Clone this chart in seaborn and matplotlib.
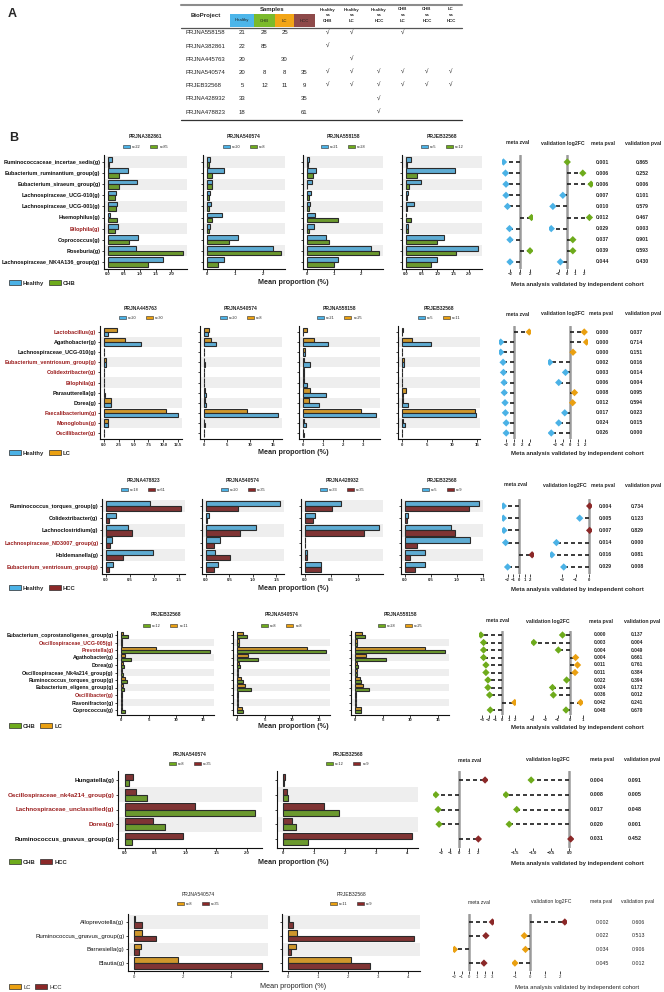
import numpy as np
import pandas as pd
import seaborn as sns
import matplotlib.pyplot as plt
from matplotlib.patches import Rectangle, Patch
from matplotlib.lines import Line2D

W, H = 664, 992

# ---------------- panel A table
tbl_projects = ["PRJNA558158", "PRJNA382861", "PRJNA445763", "PRJNA540574",
                "PRJEB32568", "PRJNA428932", "PRJNA478823"]
tbl_groups = ["Healthy", "CHB", "LC", "HCC"]
tbl_healthy = [21, 22, 20, 20, 5, 33, 18]
tbl_chb = [28, 85, None, 8, 12, None, None]
tbl_lc = [25, None, 30, 8, 11, None, None]
tbl_hcc = [None, None, None, 35, 9, 35, 61]
tbl_compare = ["Healthy\nvs\nCHB", "Healthy\nvs\nLC", "Healthy\nvs\nHCC",
               "CHB\nvs\nLC", "CHB\nvs\nHCC", "LC\nvs\nHCC"]
tbl_checks = [[1, 1, 0, 1, 0, 0], [1, 0, 0, 0, 0, 0], [0, 1, 0, 0, 0, 0],
              [1, 1, 1, 1, 1, 1], [1, 1, 1, 1, 1, 1], [0, 0, 1, 0, 0, 0],
              [0, 0, 1, 0, 0, 0]]

# ---------------- Healthy vs CHB
hc_taxa = ["Ruminococcaceae_incertae_sedis(g)", "Eubacterium_ruminantium_group(g)",
           "Eubacterium_siraeum_group(g)", "Lachnospiraceae_UCG-010(g)",
           "Lachnospiraceae_UCG-001(g)", "Haemophilus(g)", "Bilophila(g)",
           "Coprococcus(g)", "Roseburia(g)", "Lachnospiraceae_NK4A136_group(g)"]
hc_red = ["Bilophila(g)"]
hc_projects = ["PRJNA382861", "PRJNA540574", "PRJNA558158", "PRJEB32568"]
hc_n = [(22, 85), (20, 8), (21, 28), (5, 12)]
hc_healthy = [[0.13, 0.65, 0.93, 0.26, 0.28, 0.08, 0.33, 0.96, 0.89, 1.72],
              [0.11, 0.61, 0.17, 0.13, 0.15, 0.54, 0.11, 1.09, 2.34, 0.61],
              [0.07, 0.33, 0.19, 0.15, 0.12, 0.29, 0.26, 0.72, 2.39, 1.17],
              [0.17, 1.54, 0.47, 0.09, 0.27, 0.02, 0.09, 1.20, 2.29, 1.00]]
hc_chb = [[0.05, 0.36, 0.34, 0.23, 0.25, 0.29, 0.23, 0.68, 2.37, 1.27],
          [0.08, 0.17, 0.17, 0.08, 0.08, 0.19, 0.08, 0.77, 2.63, 0.40],
          [0.04, 0.25, 0.02, 0.10, 0.10, 1.17, 0.10, 0.81, 2.68, 0.99],
          [0.04, 0.35, 0.10, 0.04, 0.04, 0.17, 0.09, 1.00, 1.59, 0.80]]
hc_zval = [-3.3, -2.9, -2.8, -2.8, -2.5, 2.3, -2.1, -2.0, 2.0, -2.0]
hc_log2fc = [0.03, 1.9, 2.9, -0.5, -1.7, 2.7, -1.9, 0.7, 0.7, -0.8]
hc_meta_p = ["0.001", "0.006", "0.006", "0.007", "0.010", "0.012", "0.029", "0.037", "0.039", "0.044"]
hc_valid_p = ["0.865", "0.252", "0.006", "0.101", "0.579", "0.467", "0.003", "0.901", "0.593", "0.430"]
hc_steps = [0.5, 1, 1, 0.5]
hc_zticks = [-2, 0, 2]
hc_fcticks = [-1, 0, 1, 2]

# ---------------- Healthy vs LC
hl_taxa = ["Lactobacillus(g)", "Agathobacter(g)", "Lachnospiraceae_UCG-010(g)",
           "Eubacterium_ventriosum_group(g)", "Colidextribacter(g)", "Bilophila(g)",
           "Parasutterella(g)", "Dorea(g)", "Faecalibacterium(g)", "Monoglobus(g)",
           "Oscillibacter(g)"]
hl_red = ["Lactobacillus(g)", "Eubacterium_ventriosum_group(g)", "Colidextribacter(g)",
          "Bilophila(g)", "Faecalibacterium(g)", "Monoglobus(g)", "Oscillibacter(g)"]
hl_projects = ["PRJNA445763", "PRJNA540574", "PRJNA558158", "PRJEB32568"]
hl_n = [(20, 30), (20, 8), (21, 25), (5, 11)]
hl_healthy = [[0.65, 6.3, 0.10, 0.38, 0.05, 0.08, 0.27, 1.25, 12.5, 0.65, 0.10],
              [0.90, 2.7, 0.07, 0.30, 0.05, 0.05, 0.55, 0.55, 16.1, 0.30, 0.03],
              [0.03, 1.26, 0.13, 0.37, 0.06, 0.24, 1.17, 0.80, 3.67, 0.15, 0.07],
              [0.06, 5.8, 0.06, 0.38, 0.05, 0.06, 0.32, 1.15, 14.8, 0.58, 0.06]]
hl_lc = [[2.16, 3.6, 0.10, 0.38, 0.05, 0.08, 0.10, 1.25, 10.4, 0.65, 0.05],
         [1.05, 1.6, 0.07, 0.15, 0.05, 0.05, 0.20, 0.35, 9.4, 0.05, 0.03],
         [0.21, 0.56, 0.13, 0.05, 0.06, 0.08, 0.37, 0.32, 2.9, 0.06, 0.02],
         [0.32, 2.1, 0.06, 0.38, 0.05, 0.06, 0.83, 0.32, 14.6, 0.20, 0.06]]
hl_zval = [3.9, -3.4, -3.4, -2.8, -2.7, -2.55, -2.5, -2.3, -2.2, -2.0, -2.0]
hl_log2fc = [1.9, 2.2, 0.4, -2.7, -0.6, -1.5, 0.6, 0.35, -0.7, -1.5, -2.5]
hl_meta_p = ["0.000", "0.000", "0.000", "0.002", "0.003", "0.006", "0.008", "0.012", "0.017", "0.024", "0.026"]
hl_valid_p = ["0.037", "0.714", "0.151", "0.016", "0.014", "0.004", "0.095", "0.594", "0.023", "0.015", "0.000"]
hl_steps = [2.5, 5, 1, 5]
hl_zticks = [-2, 0, 2, 4]
hl_fcticks = [-2, -1, 0, 1, 2]

# ---------------- Healthy vs HCC
hh_taxa = ["Ruminococcus_torques_group(g)", "Colidextribacter(g)", "Lachnoclostridium(g)",
           "Lachnospiraceae_ND3007_group(g)", "Holdemanella(g)", "Eubacterium_ventriosum_group(g)"]
hh_red = ["Lachnospiraceae_ND3007_group(g)", "Eubacterium_ventriosum_group(g)"]
hh_projects = ["PRJNA478823", "PRJNA540574", "PRJNA428932", "PRJEB32568"]
hh_n = [(18, 61), (20, 35), (33, 35), (5, 9)]
hh_healthy = [[0.90, 0.21, 0.45, 0.13, 0.97, 0.15],
              [1.58, 0.06, 1.07, 0.30, 0.19, 0.26],
              [0.69, 0.19, 1.41, 0.01, 0.04, 0.30],
              [1.43, 0.06, 0.89, 1.26, 0.39, 0.39]]
hh_hcc = [[1.55, 0.07, 0.54, 0.09, 0.35, 0.07],
          [0.68, 0.03, 0.72, 0.18, 0.51, 0.18],
          [0.51, 0.16, 1.12, 0.01, 0.05, 0.30],
          [1.23, 0.05, 0.97, 0.23, 0.11, 0.20]]
hh_zval = [-2.75, -2.75, -2.65, -2.35, 2.3, -2.0]
hh_log2fc = [0.05, -0.7, 0.05, -2.45, -2.8, -1.9]
hh_meta_p = ["0.004", "0.005", "0.007", "0.014", "0.016", "0.029"]
hh_valid_p = ["0.734", "0.123", "0.829", "0.000", "0.081", "0.008"]
hh_steps = [0.5, 0.5, 0.5, 0.5]
hh_zticks = [-2, -1, 0, 1, 2]
hh_fcticks = [-2, -1, 0]

# ---------------- CHB vs LC
cl_taxa = ["Eubacterium_coprostanoligenes_group(g)", "Oscillospiraceae_UCG-005(g)",
           "Prevotella(g)", "Agathobacter(g)", "Dorea(g)", "Oscillospiraceae_Nk4a214_group(g)",
           "Ruminococcus_torques_group(g)", "Eubacterium_eligens_group(g)", "Oscillibacter(g)",
           "Flavonifractor(g)", "Coprococcus(g)"]
cl_red = ["Oscillospiraceae_UCG-005(g)", "Prevotella(g)", "Oscillibacter(g)"]
cl_projects = ["PRJEB32568", "PRJNA540574", "PRJNA558158"]
cl_n = [(12, 11), (8, 8), (28, 25)]
cl_chb = [[1.16, 0.12, 16.2, 1.74, 0.46, 0.23, 1.10, 0.46, 0.05, 0.17, 0.75],
          [1.70, 0.23, 16.2, 3.80, 0.40, 0.18, 0.94, 2.46, 0.05, 0.05, 1.00],
          [1.70, 0.23, 16.2, 5.50, 0.40, 0.23, 1.05, 2.50, 0.05, 0.05, 1.05]]
cl_lc = [[0.23, 0.12, 6.28, 0.58, 0.35, 0.12, 0.70, 0.23, 0.05, 0.12, 0.12],
         [1.00, 0.23, 12.7, 2.00, 0.30, 0.18, 0.64, 1.46, 0.05, 0.05, 0.88],
         [1.10, 0.23, 12.7, 2.00, 0.30, 0.23, 0.75, 1.45, 0.05, 0.05, 1.00]]
cl_zval = [-3.15, -2.75, -2.75, -2.75, -2.4, -2.4, -2.1, -2.1, -1.85, 1.9, -1.75]
cl_log2fc = [-0.6, -2.9, -0.93, 0.45, 0.6, 0.4, -0.27, -1.4, -1.33, 0.85, -0.32]
cl_meta_p = ["0.000", "0.003", "0.004", "0.004", "0.011", "0.011", "0.022", "0.024", "0.036", "0.042", "0.048"]
cl_valid_p = ["0.137", "0.004", "0.049", "0.661", "0.761", "0.384", "0.394", "0.172", "0.012", "0.241", "0.670"]
cl_steps = [5, 5, 5]
cl_zticks = [-3, -2, -1, 0, 1, 2]
cl_fcticks = [-3, -2, -1, 0, 1]

# ---------------- CHB vs HCC
ch_taxa = ["Hungatella(g)", "Oscillospiraceae_nk4a214_group(g)", "Lachnospiraceae_unclassified(g)",
           "Dorea(g)", "Ruminococcus_gnavus_group(g)"]
ch_red = ["Oscillospiraceae_nk4a214_group(g)", "Lachnospiraceae_unclassified(g)", "Dorea(g)"]
ch_projects = ["PRJNA540574", "PRJEB32568"]
ch_n = [(8, 35), (12, 9)]
ch_chb = [[0.08, 0.36, 2.14, 0.66, 0.13],
          [0.01, 0.16, 1.79, 0.42, 0.78]]
ch_hcc = [[0.14, 0.18, 1.15, 0.46, 0.95],
          [0.06, 0.11, 1.31, 0.28, 4.15]]
ch_zval = [2.8, -2.55, -2.3, -2.2, 2.07]
ch_log2fc = [-1.06, -1.76, -1.46, -1.67, 0.04]
ch_meta_p = ["0.004", "0.008", "0.017", "0.020", "0.031"]
ch_valid_p = ["0.091", "0.005", "0.048", "0.001", "0.452"]
ch_steps = [0.5, 1]
ch_zticks = [-2, -1, 0, 1, 2]
ch_fcticks = [-1.5, -1.0, -0.5, 0.0]

# ---------------- LC vs HCC
lh_taxa = ["Alloprevotella(g)", "Ruminococcus_gnavus_group(g)", "Barnesiella(g)", "Blautia(g)"]
lh_red = []
lh_projects = ["PRJNA540574", "PRJEB32568"]
lh_n = [(8, 35), (11, 9)]
lh_lc = [[0.04, 0.30, 0.27, 1.79],
         [0.04, 0.30, 0.27, 2.09]]
lh_hcc = [[0.30, 0.89, 0.18, 5.27],
          [0.16, 4.19, 0.10, 2.73]]
lh_zval = [3.0, 2.15, -1.95, 1.9]
lh_log2fc = [2.35, -0.37, -0.29, -1.0]
lh_meta_p = ["0.002", "0.022", "0.034", "0.045"]
lh_valid_p = ["0.606", "0.513", "0.906", "0.012"]
lh_steps = [2, 1]
lh_zticks = [-2, -1, 0, 1, 2, 3]
lh_fcticks = [-1, 0, 1, 2]

COL = {"Healthy": "#4BB2E6", "CHB": "#6EAB1C", "LC": "#EAA011", "HCC": "#8B2828"}
TCOL = {"Healthy": "#4DB6EA", "CHB": "#7BBA2B", "LC": "#F2A516", "HCC": "#8E4A4A"}
RED = "#9B1E1E"
EDGE = "#2b2b2b"

rows = [
    dict(groups=("Healthy", "CHB"), top="Healthy", taxa=hc_taxa, red=hc_red, projects=hc_projects,
         n=hc_n, vals=(hc_healthy, hc_chb), zval=hc_zval, fc=hc_log2fc, mp=hc_meta_p, vp=hc_valid_p,
         steps=hc_steps, zticks=hc_zticks, fcticks=hc_fcticks, bold=True,
         yc0=162, sp=11.1, px=[(104, 187), (203, 285), (303, 383), (402, 482)],
         title_y=137, leg_y=147, head_y=143, foot_y=283, lab_fs=4.0, num_fs=3.7,
         z0=520, zu=5.0, f0=567, fu=8.3, hx=(518, 563, 603, 643), pvx=(602, 642)),
    dict(groups=("Healthy", "LC"), top="LC", taxa=hl_taxa, red=hl_red, projects=hl_projects,
         n=hl_n, vals=(hl_healthy, hl_lc), zval=hl_zval, fc=hl_log2fc, mp=hl_meta_p, vp=hl_valid_p,
         steps=hl_steps, zticks=hl_zticks, fcticks=hl_fcticks, bold=True,
         yc0=332, sp=10.1, px=[(100, 182), (200, 282), (299, 380), (398, 480)],
         title_y=308, leg_y=318, head_y=314, foot_y=453, lab_fs=4.0, num_fs=3.7,
         z0=514, zu=3.9, f0=570, fu=7.5, hx=(518, 563, 601, 643), pvx=(602, 636)),
    dict(groups=("Healthy", "HCC"), top="Healthy", taxa=hh_taxa, red=hh_red, projects=hh_projects,
         n=hh_n, vals=(hh_healthy, hh_hcc), zval=hh_zval, fc=hh_log2fc, mp=hh_meta_p, vp=hh_valid_p,
         steps=hh_steps, zticks=hh_zticks, fcticks=hh_fcticks, bold=True,
         yc0=506, sp=12.2, px=[(102, 185), (202, 284), (301, 383), (401, 483)],
         title_y=480, leg_y=490, head_y=485, foot_y=588, lab_fs=4.0, num_fs=3.7,
         z0=519, zu=5.7, f0=589, fu=13.3, hx=(516, 565, 603, 643), pvx=(605, 637)),
    dict(groups=("CHB", "LC"), top="LC", taxa=cl_taxa, red=cl_red, projects=cl_projects,
         n=cl_n, vals=(cl_chb, cl_lc), zval=cl_zval, fc=cl_log2fc, mp=cl_meta_p, vp=cl_valid_p,
         steps=cl_steps, zticks=cl_zticks, fcticks=cl_fcticks, bold=True,
         yc0=635, sp=7.5, px=[(117, 214), (233, 330), (351, 449)],
         title_y=615, leg_y=626, head_y=621, foot_y=726, lab_fs=3.8, num_fs=3.5,
         z0=502, zu=6.7, f0=570, fu=12.5, hx=(498, 548, 601, 642), pvx=(600, 637)),
    dict(groups=("CHB", "HCC"), top="HCC", taxa=ch_taxa, red=ch_red, projects=ch_projects,
         n=ch_n, vals=(ch_chb, ch_hcc), zval=ch_zval, fc=ch_log2fc, mp=ch_meta_p, vp=ch_valid_p,
         steps=ch_steps, zticks=ch_zticks, fcticks=ch_fcticks, bold=True,
         yc0=780, sp=14.75, px=[(118, 262), (277, 418)],
         title_y=754, leg_y=764, head_y=760, foot_y=862, lab_fs=4.5, num_fs=4.0,
         z0=459.3, zu=9.2, f0=569.3, fu=36, hx=(470, 548, 602, 642), pvx=(597, 635)),
    dict(groups=("LC", "HCC"), top="LC", taxa=lh_taxa, red=lh_red, projects=lh_projects,
         n=lh_n, vals=(lh_lc, lh_hcc), zval=lh_zval, fc=lh_log2fc, mp=lh_meta_p, vp=lh_valid_p,
         steps=lh_steps, zticks=lh_zticks, fcticks=lh_fcticks, bold=False,
         yc0=922, sp=13.7, px=[(128, 268), (282, 420)],
         title_y=895, leg_y=904, head_y=902, foot_y=987, lab_fs=4.4, num_fs=3.8,
         z0=469.4, zu=7.66, f0=529.8, fu=14.9, hx=(479, 551, 601, 638), pvx=(602, 638)),
]

sns.set_style("ticks")
plt.rcParams["font.family"] = ["Liberation Sans", "DejaVu Sans"]

fig = plt.figure(figsize=(W / 100, H / 100), dpi=100)


def fax(x0, y0, x1, y1):
    return fig.add_axes([x0 / W, 1 - y1 / H, (x1 - x0) / W, (y1 - y0) / H])


def ftext(x, y, s, **kw):
    kw.setdefault("ha", "center")
    kw.setdefault("va", "center")
    fig.text(x / W, 1 - y / H, s, **kw)


def fline(x0, x1, y, **kw):
    fig.add_artist(Line2D([x0 / W, x1 / W], [1 - y / H] * 2, transform=fig.transFigure, **kw))


def fmt(v, step):
    s = ("%.1f" % v) if (step % 1) else ("%d" % round(v))
    return s.replace("-", "\u2212")


# ---------------- A: table
ftext(8, 14, "A", fontsize=9, fontweight="bold", ha="left")
fline(181, 462, 5, color="#8c8c8c", lw=1.5)
ftext(206, 15, "BioProject", fontsize=4.3, fontweight="bold")
ftext(272, 9, "Samples", fontsize=4.3, fontweight="bold")
cell_x = [(230, 254), (254, 275), (275, 294), (294, 315)]
for g, (a, b) in zip(tbl_groups, cell_x):
    fig.add_artist(Rectangle((a / W, 1 - 27 / H), (b - a) / W, 13 / H,
                             transform=fig.transFigure, fc=TCOL[g], ec="none"))
    ftext((a + b) / 2, 20.5, g, fontsize=3.1, color="#222222")
cmp_x = [328, 352, 379, 403, 427, 451]
for lab, x in zip(tbl_compare, cmp_x):
    ftext(x, 15, lab, fontsize=3.2, fontweight="bold", linespacing=1.5)
fline(181, 462, 27.5, color="#555555", lw=0.9)
samp_x = [(a + b) / 2 for a, b in cell_x]
row_y = np.linspace(33, 112, len(tbl_projects))
for i, proj in enumerate(tbl_projects):
    y = row_y[i]
    ftext(186, y, proj, fontsize=4.3, ha="left", color="#222222")
    for vals, x in zip((tbl_healthy, tbl_chb, tbl_lc, tbl_hcc), samp_x):
        if vals[i] is not None:
            ftext(x, y, str(vals[i]), fontsize=4.3, color="#222222")
    for c, x in zip(tbl_checks[i], cmp_x):
        if c:
            ftext(x, y, "\u221a", fontsize=4.5, color="#222222")
fline(181, 462, 120, color="#333333", lw=0.9)

ftext(9, 138, "B", fontsize=9, fontweight="bold", ha="left")


# ---------------- B: rows
def draw_row(r):
    taxa = r["taxa"]
    n = len(taxa)
    yt = r["yc0"] - 0.6 * r["sp"]
    yb = r["yc0"] + (n - 0.4) * r["sp"]
    g1, g2 = r["groups"]
    order = [r["top"], g2 if r["top"] == g1 else g1]
    wt = "bold" if r["bold"] else "normal"

    for k, (proj, (x0, x1)) in enumerate(zip(r["projects"], r["px"])):
        ax = fax(x0, yt, x1, yb)
        df = pd.DataFrame({"taxon": taxa * 2,
                           "prop": list(r["vals"][0][k]) + list(r["vals"][1][k]),
                           "group": [g1] * n + [g2] * n})
        sns.barplot(data=df, x="prop", y="taxon", hue="group", hue_order=order, order=taxa,
                    palette=COL, orient="h", width=0.84, edgecolor=EDGE, linewidth=0.8,
                    errorbar=None, legend=False, ax=ax)
        for i in range(n):
            if (n - 1 - i) % 2 == 1:
                ax.axhspan(i - 0.5, i + 0.5, color="#EEEEEE", lw=0, zorder=0)
        mx = df["prop"].max()
        ax.set_xlim(-0.05 * mx, 1.05 * mx)
        ax.set_ylim(n - 0.4, -0.6)
        ticks = np.arange(0, 1.05 * mx, r["steps"][k])
        ax.set_xticks(ticks)
        ax.set_xticklabels([fmt(t, r["steps"][k]) for t in ticks], fontsize=3.1, fontweight=wt)
        ax.set_yticks(range(n))
        if k == 0:
            ax.set_yticklabels(taxa, fontsize=r["lab_fs"], fontweight=wt)
            for lab in ax.get_yticklabels():
                lab.set_color(RED if lab.get_text() in r["red"] else "#111111")
        else:
            ax.set_yticklabels([])
        ax.set_xlabel("")
        ax.set_ylabel("")
        ax.tick_params(axis="both", length=1.8, width=0.6, pad=0.8, left=True, bottom=True)
        sns.despine(ax=ax)
        for s in ("left", "bottom"):
            ax.spines[s].set_color("#111111")
            ax.spines[s].set_linewidth(0.8)

        ftext((x0 + x1) / 2, r["title_y"], proj, fontsize=3.6, fontweight=wt)
        n1, n2 = r["n"][k]
        ax.legend(handles=[Patch(fc=COL[g1], ec=EDGE, lw=0.4, label="n=%d" % n1),
                           Patch(fc=COL[g2], ec=EDGE, lw=0.4, label="n=%d" % n2)],
                  loc="center", bbox_to_anchor=((x0 + x1) / 2 / W, 1 - r["leg_y"] / H),
                  bbox_transform=fig.transFigure, ncol=2, frameon=False, fontsize=2.8,
                  handlelength=1.8, handleheight=0.7, columnspacing=2.5, handletextpad=0.5,
                  borderpad=0, borderaxespad=0)

    # meta zval and validation log2FC dot panels
    for key, z0, zu, ticks in (("zval", r["z0"], r["zu"], r["zticks"]),
                               ("fc", r["f0"], r["fu"], r["fcticks"])):
        vals = np.array(r[key], dtype=float)
        lo, hi = min(vals.min(), 0), max(vals.max(), 0)
        pad = 0.05 * (hi - lo)
        lim = (lo - pad, hi + pad)
        ax = fax(z0 + lim[0] * zu, yt, z0 + lim[1] * zu, yb)
        ax.set_facecolor("none")
        ys = np.arange(n)
        dd = pd.DataFrame({"v": vals, "y": ys, "dir": np.where(vals < 0, g1, g2)})
        sns.scatterplot(data=dd, x="v", y="y", hue="dir", palette=COL, marker="D", s=14,
                        linewidth=0, legend=False, zorder=5, ax=ax)
        ax.axvline(0, color="#9A9A9A", lw=1.8, zorder=3)
        ax.hlines(ys, np.zeros(n), vals, colors="#1a1a1a", linewidths=1.2,
                  linestyles=[(0, (2.4, 1.8))] * n, zorder=4)
        ax.set_xlim(*lim)
        ax.set_ylim(n - 0.4, -0.6)
        for s in ax.spines.values():
            s.set_visible(False)
        ax.set_yticks([])
        step = 0.5 if any(t % 1 for t in ticks) else 1
        ax.set_xticks(ticks)
        ax.set_xticklabels([fmt(t, step) for t in ticks], fontsize=3.1, fontweight=wt)
        ax.tick_params(axis="x", length=1.8, width=0.6, pad=0.8, bottom=True)
        ax.set_xlabel("")
        ax.set_ylabel("")

    hx = r["hx"]
    for x, lab in zip(hx, ("meta zval", "validation log2FC", "meta pval", "validation pval")):
        ftext(x, r["head_y"], lab, fontsize=3.7, fontweight=wt)
    for i in range(n):
        y = r["yc0"] + i * r["sp"]
        ftext(r["pvx"][0], y, r["mp"][i], fontsize=r["num_fs"], fontweight=wt)
        ftext(r["pvx"][1], y, r["vp"][i], fontsize=r["num_fs"], fontweight=wt)

    fig.legend(handles=[Patch(fc=COL[g], ec=EDGE, lw=0.5, label=g) for g in (g1, g2)],
               loc="center left", bbox_to_anchor=(9 / W, 1 - r["foot_y"] / H), ncol=2,
               frameon=False, prop=dict(size=4.2, weight=wt), handlelength=2.0,
               handleheight=0.9, handletextpad=0.4, columnspacing=0.8, borderpad=0,
               borderaxespad=0)
    ftext(293, r["foot_y"], "Mean proportion (%)", fontsize=5.2, fontweight=wt)
    ftext(577, r["foot_y"] + 1, "Meta analysis validated by independent cohort", fontsize=4.3, fontweight=wt)


for r in rows:
    draw_row(r)

fig.savefig("out.png", dpi=100)
